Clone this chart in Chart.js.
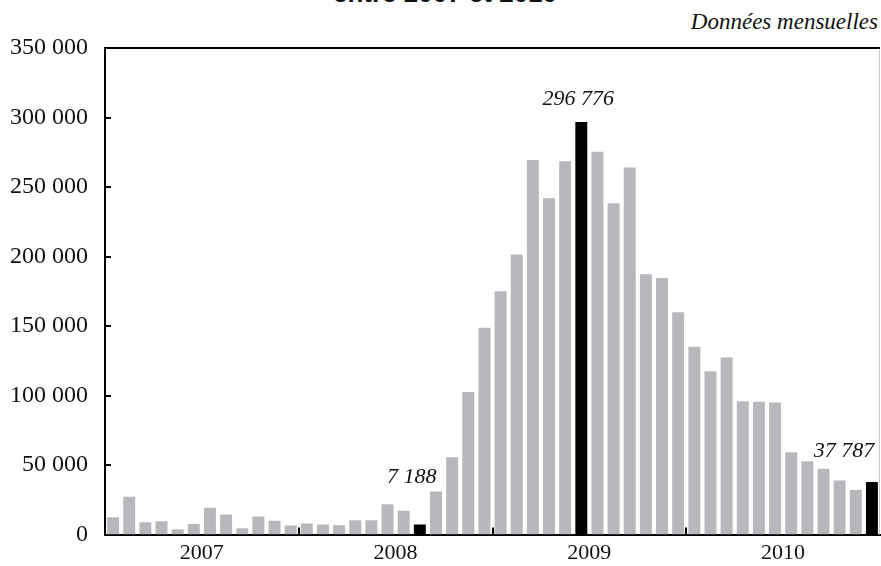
<!DOCTYPE html>
<html>
<head>
<meta charset="utf-8">
<script src="https://cdn.jsdelivr.net/npm/chart.js@4"></script>
<style>
  html, body { margin: 0; padding: 0; background: #fff; }
  #wrap { position: relative; width: 881px; height: 566px; overflow: hidden; }
  #title {
    position: absolute; left: 0; width: 890px; top: -20px; text-align: center;
    font: bold 26px "Liberation Sans", Arial, sans-serif; color: #111; line-height: 26px;
  }
  #subtitle {
    position: absolute; right: 3px; top: 9px;
    font: italic 23px "Liberation Serif", "Times New Roman", serif; color: #111; line-height: 26px;
  }
  canvas { position: absolute; left: 0; top: 0; }
</style>
</head>
<body>
<div id="wrap">
  <div id="title">entre 2007 et 2010</div>
  <div id="subtitle">Données mensuelles</div>
  <canvas id="chart" width="881" height="566"></canvas>
</div>
<script>
const years = ["2007", "2008", "2009", "2010"];
const months = ["01", "02", "03", "04", "05", "06", "07", "08", "09", "10", "11", "12"];

// valeurs mensuelles
const values2007 = [12500, 27200, 8900, 9600, 3800, 7700, 19300, 14400, 4500, 13000, 9900, 6500];
const values2008 = [7900, 7200, 6700, 10300, 10300, 21900, 17100, 7188, 31000, 55700, 102600, 148700];
const values2009 = [175000, 201400, 269500, 242000, 268600, 296776, 275300, 238300, 264000, 187200, 184600, 160000];
const values2010 = [135200, 117500, 127300, 96000, 95500, 95100, 59200, 52700, 47400, 39000, 32000, 37787];

const highlighted = [19, 29, 47];
const yTicks = [0, 50000, 100000, 150000, 200000, 250000, 300000, 350000];

const labels = [];
years.forEach(y => months.forEach(m => labels.push(y + "-" + m)));
const values = [...values2007, ...values2008, ...values2009, ...values2010];

const fmt = v => String(v).replace(/\B(?=(\d{3})+(?!\d))/g, " ");

const serif = "'Liberation Serif', 'Times New Roman', serif";

const frame = {
  id: "frame",
  afterDraw(chart) {
    const { ctx, chartArea: a, scales } = chart;
    ctx.save();
    // bord droit gris, bord haut noir
    ctx.strokeStyle = "#c8c8c8";
    ctx.lineWidth = 1;
    ctx.beginPath();
    ctx.moveTo(a.right - 0.5, a.top);
    ctx.lineTo(a.right - 0.5, a.bottom);
    ctx.stroke();
    ctx.strokeStyle = "#000";
    ctx.lineWidth = 2;
    ctx.beginPath();
    ctx.moveTo(a.left - 1, a.top);
    ctx.lineTo(a.right, a.top);
    ctx.stroke();
    // graduations intérieures
    yTicks.slice(1, -1).forEach(v => {
      const y = Math.round(scales.y.getPixelForValue(v));
      ctx.beginPath();
      ctx.moveTo(a.left, y);
      ctx.lineTo(a.left + 6, y);
      ctx.stroke();
    });
    for (let k = 1; k < years.length; k++) {
      const i = k * 12;
      const x = Math.round((scales.x.getPixelForValue(i - 1) + scales.x.getPixelForValue(i)) / 2);
      ctx.beginPath();
      ctx.moveTo(x, a.bottom);
      ctx.lineTo(x, a.bottom - 7);
      ctx.stroke();
    }
    // étiquettes des barres en noir
    const meta = chart.getDatasetMeta(0);
    const offsets = { 19: [-8, -47], 29: [-3, -23], 47: [-28, -31] };
    ctx.font = "italic 22px " + serif;
    ctx.fillStyle = "#111";
    ctx.textAlign = "center";
    ctx.textBaseline = "middle";
    highlighted.forEach(i => {
      const bar = meta.data[i];
      const [dx, dy] = offsets[i];
      ctx.fillText(fmt(values[i]), bar.x + dx, bar.y + dy);
    });
    ctx.restore();
  }
};

new Chart(document.getElementById("chart"), {
  type: "bar",
  data: {
    labels: labels,
    datasets: [{
      data: values,
      backgroundColor: values.map((v, i) => highlighted.includes(i) ? "#000" : "#b7b8bc"),
      barPercentage: 0.74,
      categoryPercentage: 1
    }]
  },
  options: {
    responsive: false,
    animation: false,
    layout: { padding: { top: 48, right: 1, left: 0, bottom: 0 } },
    plugins: { legend: { display: false }, tooltip: { enabled: false } },
    scales: {
      x: {
        grid: { display: false, drawTicks: false },
        border: { display: true, color: "#000", width: 2 },
        afterFit: s => { s.height = 31; },
        ticks: {
          autoSkip: false,
          maxRotation: 0,
          padding: 5,
          labelOffset: 8,
          color: "#111",
          font: { family: serif, size: 22 },
          callback: (v, i) => i % 12 === 5 ? labels[i].slice(0, 4) : ""
        }
      },
      y: {
        min: 0,
        max: 350000,
        grid: { display: false, drawTicks: false },
        border: { display: true, color: "#000", width: 2 },
        afterFit: s => { s.width = 105; },
        afterBuildTicks: s => { s.ticks = yTicks.map(v => ({ value: v })); },
        ticks: {
          padding: 17,
          color: "#111",
          font: { family: serif, size: 24 },
          callback: v => fmt(v)
        }
      }
    }
  },
  plugins: [frame]
});
</script>
</body>
</html>
